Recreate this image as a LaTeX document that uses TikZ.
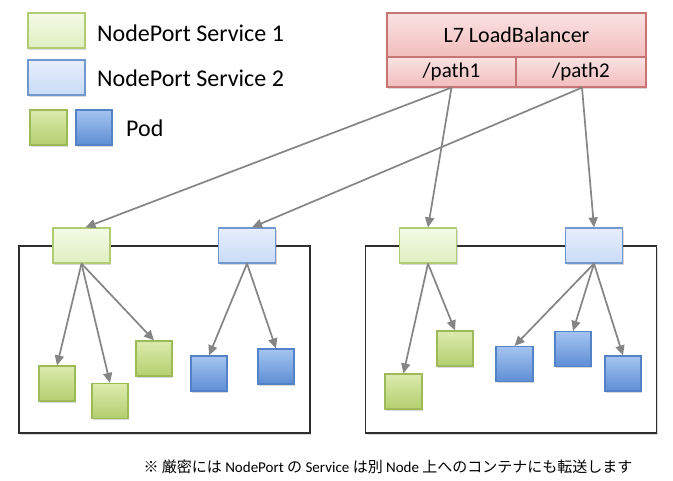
\documentclass[tikz,border=0pt]{standalone}
\usepackage{fontspec}
\setmainfont{Carlito}
\newfontfamily\cjk{Noto Sans CJK JP}
\usetikzlibrary{shadows,arrows.meta}
\definecolor{sgT}{HTML}{F3FAE6}
\definecolor{sgB}{HTML}{E0F0C2}
\definecolor{sgD}{HTML}{B2CC74}
\definecolor{sbT}{HTML}{E6EEFC}
\definecolor{sbB}{HTML}{C9DBF7}
\definecolor{sbD}{HTML}{7098CF}
\definecolor{pgT}{HTML}{DCEBAE}
\definecolor{pgB}{HTML}{B3CF6E}
\definecolor{pgD}{HTML}{9DBA5A}
\definecolor{pbT}{HTML}{A4C4F0}
\definecolor{pbB}{HTML}{5E8ED5}
\definecolor{pbD}{HTML}{5482C6}
\definecolor{lbT}{HTML}{FAE2E2}
\definecolor{lbB}{HTML}{F3BDBD}
\definecolor{lbD}{HTML}{C77474}
\definecolor{arrC}{HTML}{858585}
\begin{document}
\begin{tikzpicture}[x=1pt,y=-1pt,
  shad/.style={drop shadow={opacity=0.3,shadow xshift=1.2pt,shadow yshift=-1.8pt}},
  svcg/.style={draw=sgD,line width=1.2pt,top color=sgT,bottom color=sgB,minimum width=57pt,minimum height=35pt,inner sep=0pt,shad},
  svcb/.style={draw=sbD,line width=1.2pt,top color=sbT,bottom color=sbB,minimum width=57pt,minimum height=35pt,inner sep=0pt,shad},
  podg/.style={draw=pgD,line width=1.2pt,top color=pgT,bottom color=pgB,minimum width=36pt,minimum height=35pt,inner sep=0pt,shad},
  podb/.style={draw=pbD,line width=1.2pt,top color=pbT,bottom color=pbB,minimum width=36pt,minimum height=35pt,inner sep=0pt,shad},
  lbpart/.style={draw=lbD,line width=1.2pt,top color=lbT,bottom color=lbB,inner sep=0pt,shad},
  nodebox/.style={draw=black!82,line width=1.8pt,fill=white,minimum width=291pt,minimum height=187pt,inner sep=0pt,shad},
  legtext/.style={anchor=west,inner sep=0pt,font=\fontsize{24}{28}\selectfont},
  arr/.style={draw=arrC,line width=1.7pt,-{Triangle[width=9pt,length=10pt]}}]
\useasboundingbox (0,0) rectangle (673,481);
% legend
\node[svcg] (leg1) at (56.5,30.5) {};
\node[svcb] (leg2) at (56.5,77.5) {};
\node[podg,minimum width=37pt] (legpg) at (48.5,127.5) {};
\node[podb] (legpb) at (94,127.5) {};
\node[legtext] (lt1) at (97,33) {NodePort Service 1};
\node[legtext] (lt2) at (97,78) {NodePort Service 2};
\node[legtext] (lt3) at (126,128) {Pod};
% load balancer
\node[lbpart,minimum width=259pt,minimum height=44pt,font=\fontsize{22}{26}\selectfont] (lb) at (516.5,35) {L7 LoadBalancer};
\node[lbpart,minimum width=129pt,minimum height=30pt,font=\fontsize{21}{24}\selectfont] (p1) at (451.5,72) {/path1};
\node[lbpart,minimum width=130pt,minimum height=30pt,font=\fontsize{21}{24}\selectfont] (p2) at (581,72) {/path2};
% node boxes
\node[nodebox] (n1) at (164.5,339.5) {};
\node[nodebox] (n2) at (511,339.5) {};
% services
\node[svcg] (lsg) at (81.5,245.5) {};
\node[svcb] (lsb) at (247,245.5) {};
\node[svcg] (rsg) at (428,245.5) {};
\node[svcb] (rsb) at (594,245.5) {};
% pods left
\node[podg] (lg1) at (57,383.5) {};
\node[podg] (lg2) at (110,401) {};
\node[podg] (lg3) at (154,358.5) {};
\node[podb] (lb1) at (209,373.5) {};
\node[podb] (lb2) at (276,366.5) {};
% pods right
\node[podg,minimum width=37pt] (rg1) at (403.5,391.5) {};
\node[podg] (rg2) at (455,348.5) {};
\node[podb,minimum width=37pt] (rb1) at (514.5,364) {};
\node[podb] (rb2) at (573,349) {};
\node[podb] (rb3) at (623,373.5) {};
% arrows from LB
\draw[arr] (p1.south) -- ([xshift=4pt]lsg.north);
\draw[arr] (p1.south) -- (rsg.north);
\draw[arr] ([xshift=1pt]p2.south) -- ([xshift=5pt]lsb.north);
\draw[arr] ([xshift=1pt]p2.south) -- (rsb.north);
% arrows to pods
\draw[arr] (lsg.south) -- (lg1.north);
\draw[arr] (lsg.south) -- (lg2.north);
\draw[arr] (lsg.south) -- (lg3.north);
\draw[arr] (lsb.south) -- (lb1.north);
\draw[arr] (lsb.south) -- (lb2.north);
\draw[arr] (rsg.south) -- (rg1.north);
\draw[arr] (rsg.south) -- (rg2.north);
\draw[arr] (rsb.south) -- (rb1.north);
\draw[arr] (rsb.south) -- (rb2.north);
\draw[arr] (rsb.south) -- (rb3.north);
% footnote
\node[inner sep=0pt,font=\fontsize{15}{18}\selectfont] (fn) at (388,467) {{\cjk ※ 厳密には} NodePort {\cjk の} Service {\cjk は別} Node {\cjk 上へのコンテナにも転送します}};
\end{tikzpicture}
\end{document}
